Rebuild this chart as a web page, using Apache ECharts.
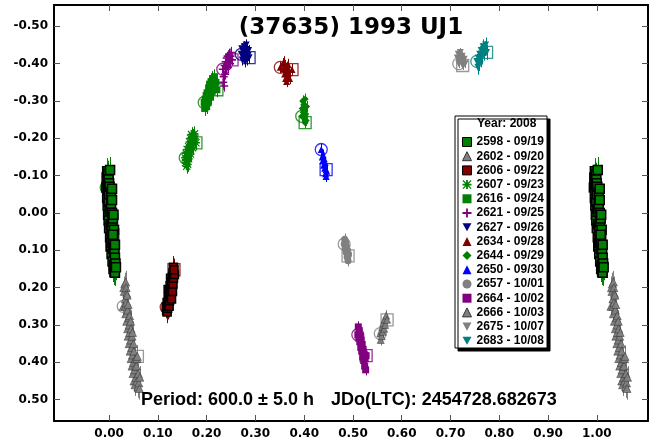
<!DOCTYPE html>
<html>
<head>
<meta charset="utf-8">
<script src="https://cdn.jsdelivr.net/npm/echarts@6/dist/echarts.min.js"></script>
<style>html,body{margin:0;padding:0;background:#fff;}#c{width:657px;height:445px;}</style>
</head>
<body>
<div id="c"></div>
<script>
// ---- data: [phase, reduced magnitude] in time order ----
const s2598 = [[-0.006,-0.068],[-0.005,-0.095],[-0.004,-0.112],[-0.004,-0.04],[-0.004,-0.085],[-0.003,-0.02],[-0.003,-0.105],[-0.003,-0.06],[-0.002,0.005],[-0.002,-0.075],[-0.002,-0.1],[-0.001,-0.03],[-0.001,0.02],[-0.001,-0.09],[0.000,-0.05],[0.000,0.04],[0.000,-0.08],[0.001,-0.01],[0.002,0.065],[0.002,-0.115],[0.001,-0.07],[0.003,0.03],[0.003,0.09],[0.003,-0.005],[0.004,-0.025],[0.004,-0.055],[0.004,0.08],[0.005,0.11],[0.005,0.05],[0.005,0.035],[0.006,0.0],[0.006,-0.035],[0.006,-0.065],[0.007,0.13],[0.007,0.075],[0.007,0.025],[0.008,0.015],[0.008,0.095],[0.009,0.15],[0.009,0.07],[0.009,0.005],[0.010,0.1],[0.010,0.045],[0.010,0.14],[0.011,0.158],[0.011,0.105],[0.012,0.12],[0.012,0.085],[0.012,0.16],[0.013,0.135],[0.014,0.145],[0.008,0.058]];
const s2602 = [[0.029,0.25],[0.031,0.21],[0.030,0.2],[0.032,0.19],[0.033,0.23],[0.033,0.25],[0.034,0.27],[0.034,0.185],[0.035,0.2],[0.035,0.24],[0.036,0.29],[0.036,0.215],[0.037,0.22],[0.038,0.31],[0.038,0.26],[0.039,0.33],[0.039,0.245],[0.040,0.28],[0.041,0.3],[0.041,0.35],[0.042,0.32],[0.042,0.275],[0.043,0.37],[0.044,0.34],[0.044,0.29],[0.045,0.39],[0.045,0.31],[0.046,0.36],[0.047,0.41],[0.047,0.33],[0.048,0.38],[0.048,0.32],[0.049,0.43],[0.050,0.4],[0.050,0.35],[0.051,0.45],[0.051,0.37],[0.052,0.42],[0.053,0.46],[0.054,0.39],[0.054,0.41],[0.055,0.44],[0.056,0.41],[0.057,0.45],[0.057,0.39],[0.059,0.465],[0.060,0.43],[0.061,0.455],[0.062,0.47],[0.063,0.44],[0.058,0.384]];
const s2606 = [[0.117,0.252],[0.118,0.262],[0.119,0.24],[0.119,0.265],[0.120,0.255],[0.121,0.23],[0.121,0.205],[0.122,0.245],[0.123,0.22],[0.123,0.25],[0.124,0.235],[0.125,0.21],[0.125,0.195],[0.126,0.225],[0.126,0.175],[0.127,0.2],[0.128,0.185],[0.128,0.23],[0.129,0.205],[0.130,0.17],[0.130,0.21],[0.131,0.19],[0.131,0.16],[0.132,0.175],[0.132,0.145],[0.134,0.165],[0.133,0.152]];
const s2607 = [[0.156,-0.148],[0.157,-0.135],[0.158,-0.16],[0.159,-0.142],[0.159,-0.125],[0.160,-0.17],[0.161,-0.13],[0.162,-0.155],[0.163,-0.178],[0.163,-0.145],[0.164,-0.163],[0.165,-0.19],[0.166,-0.172],[0.167,-0.2],[0.167,-0.158],[0.168,-0.182],[0.169,-0.21],[0.170,-0.195],[0.171,-0.175],[0.172,-0.205],[0.173,-0.185],[0.174,-0.2],[0.175,-0.212],[0.176,-0.198],[0.178,-0.188]];
const s2616 = [[0.195,-0.296],[0.196,-0.28],[0.197,-0.305],[0.198,-0.29],[0.199,-0.315],[0.200,-0.3],[0.200,-0.285],[0.201,-0.322],[0.202,-0.31],[0.203,-0.295],[0.204,-0.335],[0.205,-0.318],[0.206,-0.345],[0.207,-0.328],[0.208,-0.31],[0.209,-0.352],[0.210,-0.338],[0.211,-0.325],[0.212,-0.36],[0.213,-0.343],[0.215,-0.355],[0.216,-0.365],[0.217,-0.34],[0.219,-0.35],[0.221,-0.33]];
const s2621 = [[0.233,-0.385],[0.234,-0.35],[0.235,-0.365],[0.236,-0.34],[0.237,-0.395],[0.238,-0.372],[0.239,-0.405],[0.240,-0.385],[0.241,-0.415],[0.242,-0.398],[0.243,-0.42],[0.244,-0.39],[0.245,-0.405],[0.246,-0.425],[0.247,-0.412],[0.248,-0.4],[0.249,-0.42],[0.250,-0.43],[0.252,-0.41]];
const s2627 = [[0.271,-0.425],[0.272,-0.44],[0.273,-0.41],[0.275,-0.432],[0.276,-0.418],[0.277,-0.445],[0.279,-0.405],[0.280,-0.428],[0.281,-0.45],[0.282,-0.438],[0.283,-0.41],[0.285,-0.422],[0.286,-0.435],[0.287,-0.416]];
const s2634 = [[0.351,-0.39],[0.356,-0.4],[0.358,-0.385],[0.359,-0.405],[0.360,-0.372],[0.361,-0.395],[0.362,-0.36],[0.363,-0.38],[0.364,-0.352],[0.365,-0.39],[0.366,-0.368],[0.367,-0.398],[0.368,-0.375],[0.370,-0.36],[0.375,-0.384]];
const s2644 = [[0.395,-0.259],[0.396,-0.28],[0.397,-0.3],[0.398,-0.27],[0.399,-0.29],[0.400,-0.255],[0.401,-0.275],[0.402,-0.305],[0.403,-0.265],[0.404,-0.248],[0.405,-0.285],[0.402,-0.242]];
const s2650 = [[0.435,-0.17],[0.437,-0.15],[0.438,-0.14],[0.439,-0.155],[0.440,-0.128],[0.441,-0.145],[0.442,-0.12],[0.443,-0.135],[0.444,-0.105],[0.445,-0.098],[0.446,-0.112],[0.445,-0.116]];
const s2657 = [[0.482,0.083],[0.483,0.07],[0.484,0.095],[0.485,0.078],[0.486,0.105],[0.487,0.09],[0.488,0.118],[0.489,0.1],[0.490,0.128],[0.491,0.11],[0.490,0.115]];
const s2664 = [[0.510,0.326],[0.511,0.305],[0.512,0.335],[0.513,0.315],[0.514,0.345],[0.515,0.33],[0.516,0.36],[0.517,0.34],[0.518,0.37],[0.519,0.352],[0.520,0.385],[0.521,0.365],[0.522,0.395],[0.523,0.378],[0.524,0.41],[0.525,0.39],[0.526,0.42],[0.527,0.382]];
const s2666 = [[0.556,0.323],[0.557,0.34],[0.558,0.315],[0.559,0.33],[0.560,0.305],[0.561,0.318],[0.562,0.295],[0.564,0.31],[0.565,0.285],[0.566,0.3],[0.568,0.275],[0.570,0.286]];
const s2675 = [[0.717,-0.40],[0.714,-0.415],[0.716,-0.425],[0.718,-0.41],[0.720,-0.43],[0.722,-0.405],[0.724,-0.42],[0.726,-0.395],[0.728,-0.412],[0.730,-0.4],[0.725,-0.395]];
const s2683 = [[0.754,-0.406],[0.756,-0.39],[0.757,-0.415],[0.759,-0.4],[0.760,-0.425],[0.762,-0.41],[0.763,-0.435],[0.765,-0.42],[0.767,-0.445],[0.768,-0.428],[0.770,-0.44],[0.772,-0.45],[0.774,-0.43]];
// typical per-session magnitude error
const errors = [0.035,0.03,0.03,0.02,0.02,0.015,0.015,0.015,0.015,0.015,0.015,0.015,0.015,0.012,0.02];
const sessionNames = ['2598 - 09/19','2602 - 09/20','2606 - 09/22','2607 - 09/23','2616 - 09/24','2621 - 09/25','2627 - 09/26','2634 - 09/28','2644 - 09/29','2650 - 09/30','2657 - 10/01','2664 - 10/02','2666 - 10/03','2675 - 10/07','2683 - 10/08'];
const sessionData = [s2598,s2602,s2606,s2607,s2616,s2621,s2627,s2634,s2644,s2650,s2657,s2664,s2666,s2675,s2683];
const xTicks = [0,0.1,0.2,0.3,0.4,0.5,0.6,0.7,0.8,0.9,1.0];
const yTicks = [-0.5,-0.4,-0.3,-0.2,-0.1,0,0.1,0.2,0.3,0.4,0.5];
const titleText = '(37635) 1993 UJ1';
const periodText = 'Period: 600.0 \u00b1 5.0 h';
const jdText = 'JDo(LTC): 2454728.682673';
const legendTitle = 'Year: 2008';

// ---- styles ----
const ASTER = 'path://M4,0h2v10h-2z M0,4h10v2h-10z M0,1L1,0L10,9L9,10Z M9,0L10,1L1,10L0,9Z';
const PLUS = 'path://M4,0h2v4h4v2h-4v4h-2v-4h-4v-2h4z';
const DOWN = 'path://M0,0L10,0L5,9Z';
const styles = [
  {sym:'rect', color:'#008000', border:'#000', bw:1.5, size:9},
  {sym:'triangle', color:'#808080', border:'#333', bw:0.5, size:8},
  {sym:'rect', color:'#800000', border:'#000', bw:1.5, size:8},
  {sym:ASTER, color:'#008000', border:null, bw:0, size:8},
  {sym:'rect', color:'#008000', border:null, bw:0, size:7},
  {sym:PLUS, color:'#800080', border:null, bw:0, size:8},
  {sym:DOWN, color:'#000080', border:null, bw:0, size:7},
  {sym:'triangle', color:'#800000', border:null, bw:0, size:7},
  {sym:'diamond', color:'#008000', border:null, bw:0, size:7},
  {sym:'triangle', color:'#0000ff', border:null, bw:0, size:7},
  {sym:'circle', color:'#808080', border:null, bw:0, size:7},
  {sym:'rect', color:'#800080', border:null, bw:0, size:7},
  {sym:'triangle', color:'#808080', border:'#333', bw:0.5, size:7},
  {sym:DOWN, color:'#808080', border:null, bw:0, size:7},
  {sym:DOWN, color:'#008080', border:null, bw:0, size:7}
];

const XMIN = -0.113, XMAX = 1.105, YMIN = -0.557, YMAX = 0.557;
function wrap(pts) {
  const out = [];
  pts.forEach(p => {
    out.push([p[0], p[1]]);
    if (p[0] + 1 <= XMAX) out.push([p[0] + 1, p[1]]);
    if (p[0] - 1 >= XMIN) out.push([p[0] - 1, p[1]]);
  });
  return out;
}

const series = [];
sessionData.forEach((pts, i) => {
  const st = styles[i];
  const wrapped = wrap(pts);
  series.push({
    type:'scatter', silent:true, z:1, xAxisIndex:0, yAxisIndex:0,
    data:[{value:pts[0], symbol:'circle'},{value:pts[pts.length-1], symbol:'rect'}],
    symbolSize:12,
    itemStyle:{color:'rgba(0,0,0,0)', borderColor:st.color, borderWidth:1.3}
  });
  series.push({
    type:'custom', silent:true, z:2, xAxisIndex:0, yAxisIndex:0,
    data: wrapped.map(p => [p[0], p[1], errors[i]]),
    renderItem: function(params, api) {
      const a = api.coord([api.value(0), api.value(1) - api.value(2)]);
      const b = api.coord([api.value(0), api.value(1) + api.value(2)]);
      return {type:'line', shape:{x1:Math.round(a[0])+0.5, y1:a[1], x2:Math.round(a[0])+0.5, y2:b[1]}, style:{stroke:st.color, lineWidth:1}};
    }
  });
  series.push({
    type:'scatter', name:sessionNames[i], z:3, xAxisIndex:0, yAxisIndex:0,
    symbol:st.sym, symbolSize:st.size,
    data:wrapped,
    itemStyle: st.border ? {color:st.color, borderColor:st.border, borderWidth:st.bw, opacity:1} : {color:st.color, opacity:1}
  });
});

const tickFmt = v => v.toFixed(2);
const labelFont = {fontFamily:'DejaVu Sans', fontWeight:'bold', fontSize:12, color:'#000'};
const axisLineStyle = {show:true, onZero:false, lineStyle:{color:'#000', width:2}};
const tickStyle = {lineStyle:{color:'#555', width:1}};

const chart = echarts.init(document.getElementById('c'), null, {renderer:'canvas'});
chart.setOption({
  animation:false,
  backgroundColor:'#fff',
  grid:{left:54, right:9, top:5, bottom:24, containLabel:false},
  xAxis:[
    {type:'value', min:XMIN, max:XMAX, position:'bottom', splitLine:{show:false}, axisLine:axisLineStyle,
     axisTick:Object.assign({inside:true, length:6, customValues:xTicks}, tickStyle),
     axisLabel:Object.assign({customValues:xTicks, formatter:tickFmt, margin:7}, labelFont)},
    {type:'value', min:XMIN, max:XMAX, position:'top', splitLine:{show:false}, axisLine:axisLineStyle,
     axisTick:Object.assign({inside:true, length:6, customValues:xTicks}, tickStyle),
     axisLabel:{show:false, customValues:xTicks}}
  ],
  yAxis:[
    {type:'value', min:YMIN, max:YMAX, inverse:true, position:'left', splitLine:{show:false}, axisLine:axisLineStyle,
     axisTick:Object.assign({inside:true, length:6, customValues:yTicks}, tickStyle),
     axisLabel:Object.assign({customValues:yTicks, formatter:tickFmt, margin:6}, labelFont)},
    {type:'value', min:YMIN, max:YMAX, inverse:true, position:'right', splitLine:{show:false}, axisLine:axisLineStyle,
     axisTick:Object.assign({inside:true, length:6, customValues:yTicks}, tickStyle),
     axisLabel:{show:false, customValues:yTicks}}
  ],
  legend:{
    orient:'vertical', left:462, top:136, padding:0,
    itemWidth:9, itemHeight:9, itemGap:2.2,
    selectedMode:false,
    itemStyle:{borderWidth:1},
    textStyle:{fontFamily:'Liberation Sans', fontWeight:'bold', fontSize:12, color:'#000', lineHeight:12},
    data: sessionNames.map((n, i) => ({name:n, icon:styles[i].sym}))
  },
  graphic:[
    {type:'rect', z:-1, shape:{x:455, y:116, width:92, height:232}, style:{fill:'#fff', stroke:'#000', lineWidth:1, shadowColor:'#000', shadowOffsetX:3, shadowOffsetY:3, shadowBlur:0}},
    {type:'text', z:5, x:477, y:124, style:{text:legendTitle, font:'bold 12px "Liberation Sans"', fill:'#000', textVerticalAlign:'middle'}},
    {type:'text', z:5, x:351, y:28, style:{text:titleText, font:'bold 23px "DejaVu Sans"', fill:'#000', textAlign:'center', textVerticalAlign:'middle'}},
    {type:'text', z:5, x:141, y:400, style:{text:periodText, font:'bold 18px "Liberation Sans"', fill:'#000', textVerticalAlign:'middle'}},
    {type:'text', z:5, x:331, y:400, style:{text:jdText, font:'bold 18px "Liberation Sans"', fill:'#000', textVerticalAlign:'middle'}}
  ],
  series:series
});
</script>
</body>
</html>
